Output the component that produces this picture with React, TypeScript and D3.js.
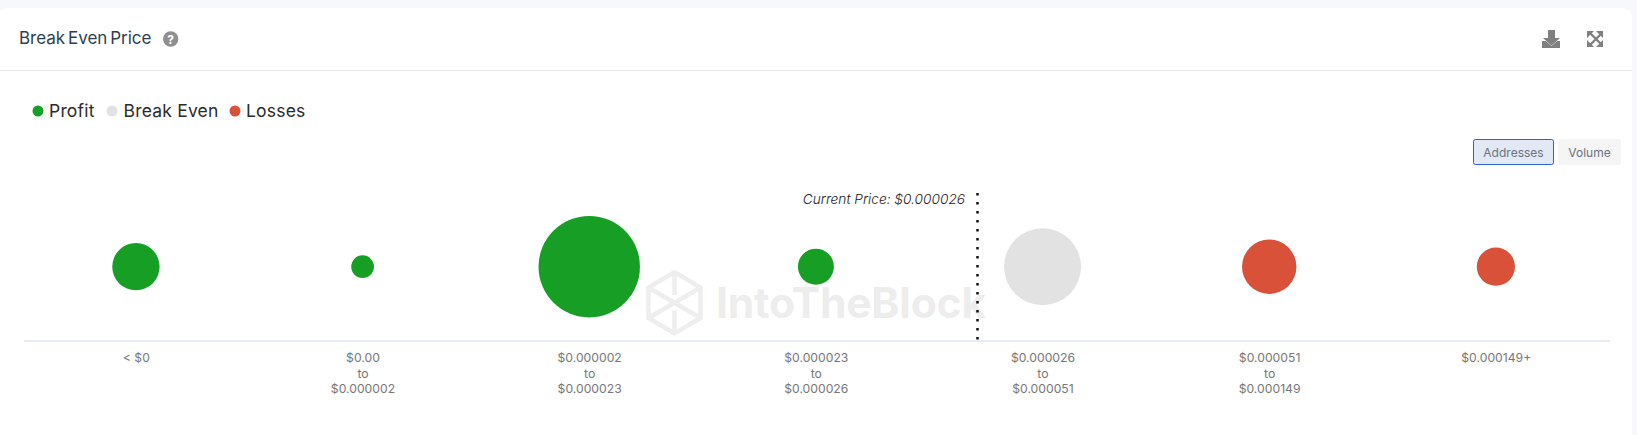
import React from "react";
import * as d3 from "d3";

const categories = ["< $0", "$0.00|to|$0.000002", "$0.000002|to|$0.000023", "$0.000023|to|$0.000026", "$0.000026|to|$0.000051", "$0.000051|to|$0.000149", "$0.000149+"];
const addresses = [21.8, 5.0, 100, 12.6, 57.6, 28.8, 14.2];
const groups = ["Profit", "Profit", "Profit", "Profit", "Break Even", "Losses", "Losses"];
const legendItems = ["Profit", "Break Even", "Losses"];
const legendColors = ["#169f24", "#e2e2e2", "#d95138"];
const currentPriceLabel = "Current Price: $0.000026";

const W = 1637, H = 435;
const FONT = "Inter, 'Noto Sans', sans-serif";
const color = d3.scaleOrdinal<string, string>().domain(legendItems).range(legendColors);
const x = d3.scaleBand<string>().domain(categories).range([22.6, 1609.2]);
const r = d3.scaleSqrt().domain([0, 100]).range([0, 50.7]);
const CY = 266.7;
const AXIS_Y = 341;

export default function App() {
  const legendX = [38, 112, 235];
  const cx = (c: string) => x(c)! + x.bandwidth() / 2;
  const priceX = 977.5;
  return (
    <svg width={W} height={H} style={{ position: "absolute", left: 0, top: 0, fontFamily: FONT }}>
      <rect width={W} height={H} fill="#f7f8fc" />
      <rect x={-2} y={8} width={1634} height={H} rx={9} fill="#ffffff" />
      <line x1={0} x2={1632} y1={70.5} y2={70.5} stroke="#ececf0" />
      <text x={19} y={44} fontSize={17} wordSpacing={-2} fill="#2d3f50">Break Even Price</text>
      <circle cx={170.7} cy={39} r={7.7} fill="#8f8f8f" />
      <text x={170.7} y={43.5} fontSize={12} fontWeight={700} fill="#fff" textAnchor="middle">?</text>
      <path d="M1542 41h18v7h-18z" fill="#808080" />
      <path d="M1548 30h7v8h5l-8.500 7.500-8.500-7.500h5z" fill="#808080" stroke="#fff" strokeWidth={1} paintOrder="stroke" />
      <g stroke="#808080" strokeWidth={2.4} fill="none"><path d="M1590 33l12 12M1602 33l-12 12" /></g>
      <path d="M1587 31h7l-7 7zM1603 31h-7l7 7zM1587 47h7l-7-7zM1603 47h-7l7-7z" fill="#808080" />

      {legendItems.map((d, i) => (
        <g key={d}>
          <circle cx={legendX[i]} cy={111} r={5.5} fill={color(d)} />
          <text x={legendX[i] + (i === 1 ? 11.5 : 11)} y={117} fontSize={17.500} letterSpacing={0.2} fill="#2b2b2b">{d}</text>
        </g>
      ))}

      <rect x={1473.500} y={139.500} width={80} height={25} rx={2} fill="#e2e8f4" stroke="#2563d9" strokeWidth={1} />
      <text x={1513.5} y={156.500} fontSize={12} fill="#6c7280" textAnchor="middle">Addresses</text>
      <rect x={1558} y={139} width={63} height={26} rx={2} fill="#f5f5f5" />
      <text x={1589.5} y={156.500} fontSize={12} fill="#6c7280" textAnchor="middle">Volume</text>

      <g opacity={0.1} fill="none" stroke="#555" strokeWidth={4.5}>
        <path d="M674.500 272l26 15.500v30.500l-26 15.500-26-15.500v-30.500zM648.500 287.500l52 30.500M700.500 287.500l-52 30.500M674.500 272v23M674.500 333.500v-23" />
      </g>
      <text x={716} y={318} fontSize={42.6} fontWeight={700} letterSpacing={-0.2} fill="#555" opacity={0.1}>IntoTheBlock</text>

      {categories.map((c, i) => (
        <circle key={c} cx={cx(c)} cy={CY} r={r(addresses[i])} fill={color(groups[i])} />
      ))}

      <line x1={24} x2={1610} y1={AXIS_Y} y2={AXIS_Y} stroke="#dfe4f1" strokeWidth={1.500} />
      {categories.map((c) => (
        <text key={c} x={cx(c)} textAnchor="middle" fontSize={12.200} fill="#777">
          {c.split("|").map((s, i) => <tspan key={i} x={cx(c) + 0.4} y={362 + i * 15.500}>{s}</tspan>)}
        </text>
      ))}

      <line x1={priceX} x2={priceX} y1={193} y2={340} stroke="#111" strokeWidth={2.500} strokeDasharray="2.500 6.500" />
      <text x={965} y={204} fontSize={13.7} fontStyle="italic" fontWeight={300} fill="#222" textAnchor="end">{currentPriceLabel}</text>
    </svg>
  );
}
